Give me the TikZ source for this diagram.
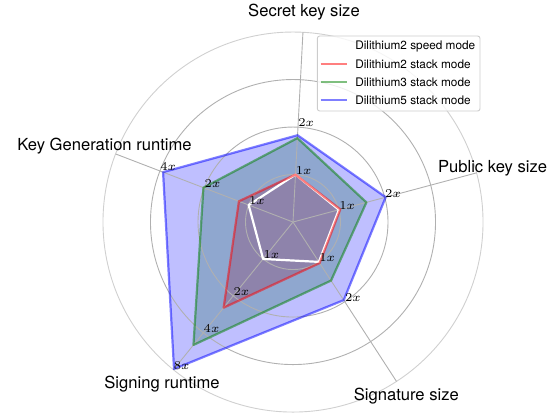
\documentclass[tikz,border=0pt]{standalone}
\usepackage[no-math]{fontspec}
\setmainfont{TeX Gyre Heros}
\usetikzlibrary{positioning}
\definecolor{gridgray}{HTML}{B0B0B0}
\definecolor{mplgreen}{HTML}{008000}
\begin{document}
\begin{tikzpicture}[x=23.75pt,y=23.75pt,line join=round,
    gridline/.style={draw=gridgray,line width=0.45pt},
    areafill/.style={fill=#1,fill opacity=0.25},
    edgeline/.style={draw=#1,draw opacity=0.5,line width=1.1pt},
    ticklabel/.style={anchor=south west,inner sep=0pt,font=\fontsize{5.9}{7}\selectfont},
    axislabel/.style={font=\fontsize{8.3}{10}\selectfont},
    legendtext/.style={anchor=west,inner sep=0pt,font=\fontsize{5.9}{7}\selectfont}]
    \useasboundingbox (-6.168,-4.084) rectangle (5.389,4.674);

    % corner points of each stack mode, one ring per doubling
    \foreach \s/\va/\vb/\vc/\vd/\ve in {d2/1.00/1.03/1.03/2.32/1.22,
                                         d3/1.77/1.60/1.47/3.33/2.02,
                                         d5/1.83/2.02/1.96/3.98/2.93} {
        \coordinate (\s-1) at (87:\va);
        \coordinate (\s-2) at (15:\vb);
        \coordinate (\s-3) at (-57:\vc);
        \coordinate (\s-4) at (-129:\vd);
        \coordinate (\s-5) at (159:\ve);
    }

    % filled areas
    \fill[areafill=red] (d2-1) -- (d2-2) -- (d2-3) -- (d2-4) -- (d2-5) -- cycle;
    \fill[areafill=mplgreen] (d3-1) -- (d3-2) -- (d3-3) -- (d3-4) -- (d3-5) -- cycle;
    \fill[areafill=blue] (d5-1) -- (d5-2) -- (d5-3) -- (d5-4) -- (d5-5) -- cycle;

    % rings and spokes
    \coordinate (o) at (0,0);
    \foreach \r in {1,2,3}
        \draw[gridline] (o) circle(\r);
    \draw[gridline,draw=gridgray!60] (o) circle(4);
    \foreach \a in {87,15,-57,-129,159}
        \draw[gridline] (o) -- (\a:4);

    % speed mode is the 1x baseline
    \draw[white,line width=1.1pt] (87:1) -- (15:1) -- (-57:1) -- (-129:1) -- (159:1) -- cycle;

    % outlines of the stack modes
    \draw[edgeline=red] (d2-1) -- (d2-2) -- (d2-3) -- (d2-4) -- (d2-5) -- cycle;
    \draw[edgeline=mplgreen] (d3-1) -- (d3-2) -- (d3-3) -- (d3-4) -- (d3-5) -- cycle;
    \draw[edgeline=blue] (d5-1) -- (d5-2) -- (d5-3) -- (d5-4) -- (d5-5) -- cycle;

    % tick labels along every spoke
    \foreach \a/\n [count=\i] in {87/2,15/2,-57/2,-129/4,159/3}
        \foreach \k in {1,...,\n} {
            \pgfmathtruncatemacro\t{2^(\k-1)}
            \node[ticklabel] (tick\i-\k) at (\a:\k) {$\t x$};
        }

    % axis names
    \foreach \a/\r/\txt [count=\i] in {87/4.42/Secret key size,
                                        15/4.35/Public key size,
                                        -57/4.38/Signature size,
                                        -129/4.38/Signing runtime,
                                        158/4.28/Key Generation runtime}
        \node[axislabel] (axis\i) at (\a:\r) {\txt};

    % legend
    \draw[draw=gray!40,fill=white,fill opacity=0.8,rounded corners=1.2pt,line width=0.45pt]
        (0.512,2.337) rectangle (3.937,3.916);
    \foreach \c/\op/\txt [count=\i] in {white/1/Dilithium2 speed mode,
                                         red/0.5/Dilithium2 stack mode,
                                         mplgreen/0.5/Dilithium3 stack mode,
                                         blue/0.5/Dilithium5 stack mode} {
        \coordinate (key\i) at (0.583,{3.705-0.381*(\i-1)});
        \draw[draw=\c,draw opacity=\op,line width=1.1pt] (key\i) -- ++(0.548,0);
        \node[legendtext,right=17.1pt of key\i] (entry\i) {\txt};
    }
\end{tikzpicture}
\end{document}
